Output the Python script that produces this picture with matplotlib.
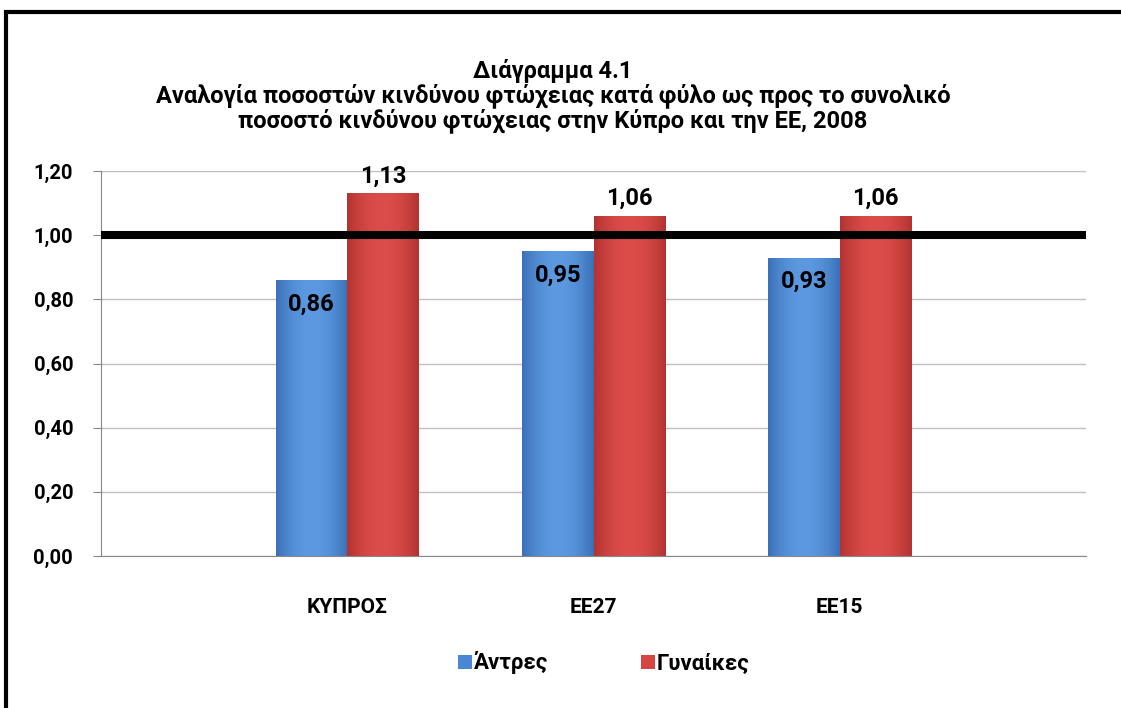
import numpy as np
import matplotlib
matplotlib.use("Agg")
import matplotlib.pyplot as plt
from matplotlib.patches import Rectangle
from matplotlib.ticker import FuncFormatter, FixedLocator

plt.rcParams['font.family'] = ['Roboto', 'DejaVu Sans']
plt.rcParams['font.weight'] = 'bold'

categories = ['ΚΥΠΡΟΣ', 'ΕΕ27', 'ΕΕ15']
men = [0.86, 0.95, 0.93]
women = [1.13, 1.06, 1.06]
series_names = ['Άντρες', 'Γυναίκες']
reference = 1.0
yticks = [0.0, 0.2, 0.4, 0.6, 0.8, 1.0, 1.2]
title_lines = ['Διάγραμμα 4.1',
               'Αναλογία ποσοστών κινδύνου φτώχειας κατά φύλο ως προς το συνολικό',
               'ποσοστό κινδύνου φτώχειας στην Κύπρο και την ΕΕ, 2008']


def shade_bars(ax, bars, light, dark):
    # horizontal gradient dark-light-dark clipped to each bar
    grad = np.linspace(-1, 1, 64)
    w = np.abs(grad) ** 2
    cols = np.outer(1 - w, np.array(light)) + np.outer(w, np.array(dark))
    img = cols[np.newaxis, :, :]
    for b in bars:
        x0, y0 = b.get_x(), b.get_y()
        im = ax.imshow(img, extent=[x0, x0 + b.get_width(), y0, y0 + b.get_height()],
                       aspect='auto', zorder=2.5, interpolation='bilinear')
        im.set_clip_path(b)
    ax.set_aspect('auto')


fig = plt.figure(figsize=(11.21, 7.08), dpi=100)
ax = fig.add_axes([101 / 1121, 1 - 556 / 708, 985 / 1121, 385 / 708])

x = np.arange(1, len(categories) + 1)
bw = 0.29
b1 = ax.bar(x - bw / 2, men, bw, color='#4A86D6', zorder=2, label=series_names[0])
b2 = ax.bar(x + bw / 2, women, bw, color='#D64541', zorder=2, label=series_names[1])
shade_bars(ax, b1, (0.36, 0.60, 0.88), (0.23, 0.44, 0.72))
shade_bars(ax, b2, (0.86, 0.30, 0.29), (0.70, 0.20, 0.19))

ax.axhline(reference, color='black', lw=5.8, zorder=4)

for xi, v in zip(x - bw / 2, men):
    ax.text(xi, v - 0.075, f'{v:.2f}'.replace('.', ','), ha='center', va='center',
            fontsize=17, fontweight='bold', zorder=5)
for xi, v in zip(x + bw / 2, women):
    ax.text(xi, v + 0.055, f'{v:.2f}'.replace('.', ','), ha='center', va='center',
            fontsize=17, fontweight='bold', zorder=5)

ax.set_xlim(0, 4)
ax.set_ylim(0, 1.2)
ax.yaxis.set_major_locator(FixedLocator(yticks))
ax.yaxis.set_major_formatter(FuncFormatter(lambda v, p: f'{v:.2f}'.replace('.', ',')))
ax.set_xticks(x)
ax.set_xticklabels(categories)
ax.tick_params(axis='x', length=0, pad=30, labelsize=15)
ax.tick_params(axis='y', length=6, color='#888888', pad=14, labelsize=14.5)
ax.grid(axis='y', color='#BFBFBF', lw=1, zorder=0)
for s in ['top', 'right']:
    ax.spines[s].set_visible(False)
for s in ['left', 'bottom']:
    ax.spines[s].set_color('#888888')

for i, line in enumerate(title_lines):
    fig.text(553 / 1121, 1 - (71 + 25 * i) / 708, line, ha='center', va='center',
             fontsize=17, fontweight='bold')

leg = fig.legend(handles=[b1, b2], labels=series_names, loc='center',
                 bbox_to_anchor=(604 / 1121, 1 - 663 / 708), ncol=2, frameon=False,
                 fontsize=16, handlelength=0.6, handleheight=0.6, handletextpad=0.1,
                 columnspacing=4.2)

# outer frame, cropped at right and bottom like the reference
fig.patches.append(Rectangle((6 / 1121, -0.05), 1.1, 1 - 12 / 708 + 0.05,
                             transform=fig.transFigure, fill=False,
                             edgecolor='black', lw=3))

fig.savefig('out.png', dpi=100)
